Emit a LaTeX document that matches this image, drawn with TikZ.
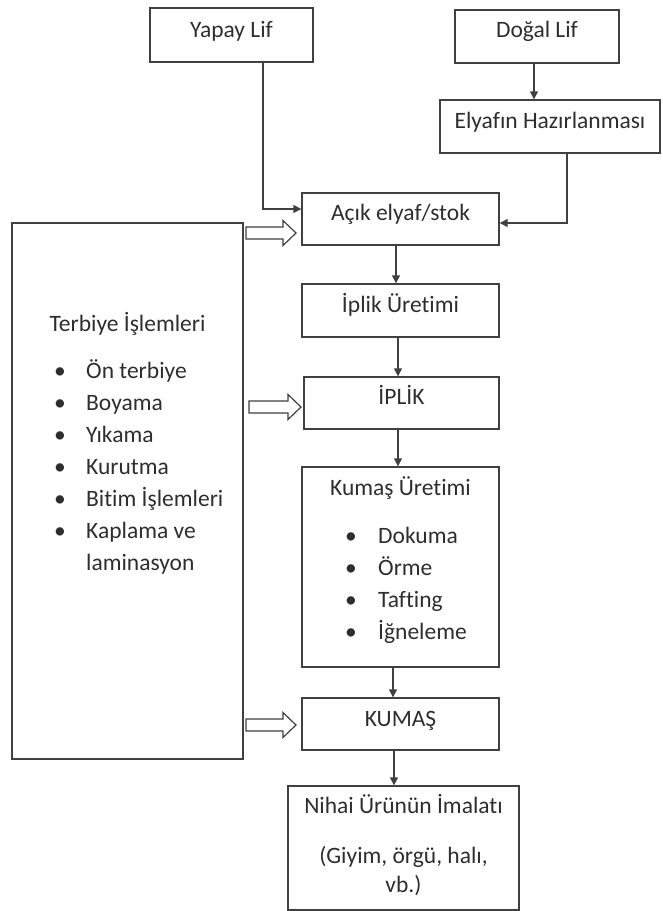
\documentclass[tikz,border=0pt]{standalone}
\usepackage{fontspec}
\setmainfont{Carlito}[Ligatures={NoCommon}]
\usetikzlibrary{arrows.meta,calc}
\definecolor{ln}{HTML}{404040}
\definecolor{tx}{HTML}{2E2E2E}
\newcommand\holarrow[2]{%
  \draw[hol] ($(#1)+(0,-6)$) -- ($(#2)+(-13,-6)$) -- ($(#2)+(-13,-12.5)$) -- (#2)
    -- ($(#2)+(-13,12.5)$) -- ($(#2)+(-13,6)$) -- ($(#1)+(0,6)$) -- cycle;}
\begin{document}
\begin{tikzpicture}[x=1pt,y=-1pt,
  box/.style={draw=ln,line width=1.4pt,inner sep=0pt,rectangle},
  txt/.style={text=tx,font=\fontsize{23.5}{28}\selectfont,inner sep=0pt,anchor=base},
  ltxt/.style={txt,anchor=base west},
  arr/.style={draw=ln,line width=1.4pt,-{Triangle[length=8pt,width=8pt]}},
  hol/.style={draw=ln,line width=1.2pt,fill=white,line join=miter}]
\useasboundingbox (0,0) rectangle (662,911);
% boxes
\node[box,minimum width=163pt,minimum height=54pt] (yapay) at (231.5,35) {};
\node[box,minimum width=164pt,minimum height=53pt] (dogal) at (537,36.5) {};
\node[box,minimum width=220pt,minimum height=53pt] (elyaf) at (550,126.5) {};
\node[box,minimum width=197pt,minimum height=52pt] (acik) at (400.5,219) {};
\node[box,minimum width=197pt,minimum height=53pt] (ipu) at (400.5,310.5) {};
\node[box,minimum width=195pt,minimum height=52pt] (iplik) at (401.5,403) {};
\node[box,minimum width=197pt,minimum height=200pt] (kmu) at (400.5,567) {};
\node[box,minimum width=197pt,minimum height=52pt] (kumas) at (400.5,724) {};
\node[box,minimum width=231pt,minimum height=124pt] (nihai) at (403.5,848) {};
\node[box,minimum width=231pt,minimum height=536pt] (terb) at (127.5,491) {};
% texts
\node[txt] (t1) at (231.5,37) {Yapay Lif};
\node[txt] (t2) at (537,37) {Doğal Lif};
\node[txt] (t3) at (550,128) {Elyafın Hazırlanması};
\node[txt] (t4) at (400.5,220) {Açık elyaf/stok};
\node[txt] (t5) at (400.5,312) {İplik Üretimi};
\node[txt] (t6) at (401.5,404) {İPLİK};
\node[txt] (t7) at (400.5,495) {Kumaş Üretimi};
\node[txt] (t8) at (400.5,726) {KUMAŞ};
\node[txt] (t9) at (403.5,813) {Nihai Ürünün İmalatı};
\node[txt] (t10) at (403.5,863) {(Giyim, örgü, halı,};
\node[txt] (t11) at (403.5,892) {vb.)};
\node[txt] (t12) at (127.5,331) {Terbiye İşlemleri};
\foreach \y/\t [count=\i] in {378/Ön terbiye,410/Boyama,442/Yıkama,474/Kurutma,506/Bitim İşlemleri,538/Kaplama ve}{
  \node[txt] (b\i) at (60,\y) {\textbullet};
  \node[ltxt] (l\i) at (86,\y) {\t};
}
\node[ltxt] (l7) at (86,570) {laminasyon};
\foreach \y/\t [count=\i] in {543/Dokuma,575/Örme,607/Tafting,639/İğneleme}{
  \node[txt] (kb\i) at (351,\y) {\textbullet};
  \node[ltxt] (kl\i) at (378,\y) {\t};
}
% connectors
\draw[arr] ([xshift=31.5pt]yapay.south) |- ([yshift=10pt]acik.west);
\draw[arr] ([xshift=-3pt]dogal.south) -- ([xshift=-3pt]dogal.south |- elyaf.north);
\draw[arr] ([xshift=17pt]elyaf.south) |- ([yshift=-4pt]acik.east);
\draw[arr] ([xshift=-4.5pt]acik.south) -- ([xshift=-4.5pt]acik.south |- ipu.north);
\draw[arr] ([xshift=-2.5pt]ipu.south) -- ([xshift=-2.5pt]ipu.south |- iplik.north);
\draw[arr] ([xshift=-3.5pt]iplik.south) -- ([xshift=-3.5pt]iplik.south |- kmu.north);
\draw[arr] ([xshift=-7.5pt]kmu.south) -- ([xshift=-7.5pt]kmu.south |- kumas.north);
\draw[arr] ([xshift=-6.5pt]kumas.south) -- ([xshift=-6.5pt]kumas.south |- nihai.north);
% hollow arrows
\coordinate (h1s) at (246,233); \coordinate (h1e) at (296,233);
\coordinate (h2s) at (249,407); \coordinate (h2e) at (301,407);
\coordinate (h3s) at (246,725); \coordinate (h3e) at (296,725);
\holarrow{h1s}{h1e}
\holarrow{h2s}{h2e}
\holarrow{h3s}{h3e}
\end{tikzpicture}
\end{document}
